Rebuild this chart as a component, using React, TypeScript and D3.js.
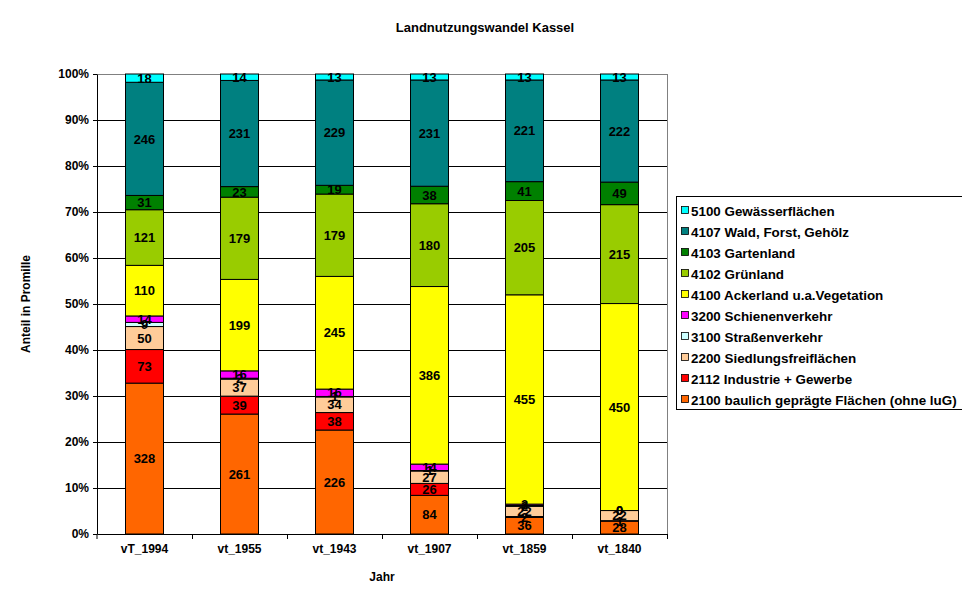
import { useEffect, useRef } from 'react';
import * as d3 from 'd3';

// Columns (years) and land use classes in stack order (bottom to top)
const years = ['vT_1994', 'vt_1955', 'vt_1943', 'vt_1907', 'vt_1859', 'vt_1840'];

const classes = [
  '2100 baulich geprägte Flächen (ohne luG)',
  '2112 Industrie + Gewerbe',
  '2200 Siedlungsfreiflächen',
  '3100 Straßenverkehr',
  '3200 Schienenverkehr',
  '4100 Ackerland u.a.Vegetation',
  '4102 Grünland',
  '4103 Gartenland',
  '4107 Wald, Forst, Gehölz',
  '5100 Gewässerflächen',
];

const colors = [
  '#FF6600', '#FF0000', '#FFCC99', '#CCFFFF', '#FF00FF',
  '#FFFF00', '#99CC00', '#008000', '#008080', '#00FFFF',
];

// values per class, one per year (promille)
const v2100 = [328, 261, 226, 84, 36, 28];
const v2112 = [73, 39, 38, 26, 2, 1];
const v2200 = [50, 37, 34, 27, 22, 22];
const v3100 = [9, 2, 1, 1, 2, 0];
const v3200 = [14, 16, 16, 14, 3, 0];
const v4100 = [110, 199, 245, 386, 455, 450];
const v4102 = [121, 179, 179, 180, 205, 215];
const v4103 = [31, 23, 19, 38, 41, 49];
const v4107 = [246, 231, 229, 231, 221, 222];
const v5100 = [18, 14, 13, 13, 13, 13];

const series = [v2100, v2112, v2200, v3100, v3200, v4100, v4102, v4103, v4107, v5100];

const yTicks = [0, 0.1, 0.2, 0.3, 0.4, 0.5, 0.6, 0.7, 0.8, 0.9, 1];

const Chart = () => {
  const svgRef = useRef<SVGSVGElement>(null);

  useEffect(() => {
    const width = 970;
    const height = 604;
    const left = 97, right = 667, top = 74, bottom = 534;
    const font = '"Liberation Sans", Arial, sans-serif';
    const narrow = '"Liberation Sans Narrow", "Liberation Sans", Arial, sans-serif';

    const svg = d3.select(svgRef.current);
    svg.selectAll('*').remove();
    svg.attr('width', width).attr('height', height);

    const rows = years.map((yr, i) => {
      const r: any = { year: yr };
      classes.forEach((c, k) => { r[c] = series[k][i]; });
      return r;
    });

    const stacked = d3.stack<any>()
      .keys(classes)
      .offset(d3.stackOffsetExpand)(rows);

    const x = d3.scaleBand().domain(years).range([left, right]).padding(0);
    const y = d3.scaleLinear().domain([0, 1]).range([bottom, top]);
    const barW = x.bandwidth() * 0.4;

    // gridlines
    svg.append('g')
      .selectAll('line')
      .data(yTicks.slice(1, -1))
      .enter()
      .append('line')
      .attr('x1', left).attr('x2', right)
      .attr('y1', d => y(d)).attr('y2', d => y(d))
      .attr('stroke', '#000').attr('stroke-width', 1)
      .attr('shape-rendering', 'crispEdges');

    // plot border top/right
    svg.append('path')
      .attr('d', `M${left},${top}H${right}V${bottom}`)
      .attr('fill', 'none').attr('stroke', '#808080')
      .attr('shape-rendering', 'crispEdges');

    // bars
    const layer = svg.append('g')
      .selectAll('g')
      .data(stacked)
      .enter()
      .append('g')
      .attr('fill', (_d, i) => colors[i]);

    layer.selectAll('rect')
      .data(d => d)
      .enter()
      .append('rect')
      .attr('x', d => (x(d.data.year) as number) + (x.bandwidth() - barW) / 2)
      .attr('y', d => y(d[1]))
      .attr('width', barW)
      .attr('height', d => y(d[0]) - y(d[1]))
      .attr('stroke', '#000')
      .attr('stroke-width', 1);

    // data labels
    stacked.forEach((s, k) => {
      svg.append('g')
        .selectAll('text')
        .data(s)
        .enter()
        .append('text')
        .attr('x', d => (x(d.data.year) as number) + x.bandwidth() / 2)
        .attr('y', d => (y(d[0]) + y(d[1])) / 2)
        .attr('dy', '0.36em')
        .attr('text-anchor', 'middle')
        .style('font-family', narrow)
        .style('font-weight', 'bold')
        .style('font-size', '13px')
        .attr('fill', '#000')
        .text(d => String(series[k][years.indexOf(d.data.year)]));
    });

    // y axis
    const yAxis = svg.append('g')
      .attr('transform', `translate(${left},0)`)
      .call(d3.axisLeft(y).tickValues(yTicks).tickFormat(d3.format('.0%')).tickSize(4).tickSizeOuter(0));
    yAxis.select('.domain').attr('stroke', '#000');
    yAxis.selectAll('text')
      .style('font-family', font).style('font-weight', 'bold').style('font-size', '12px')
      .attr('x', -8);

    // x axis
    const xAxis = svg.append('g')
      .attr('transform', `translate(0,${bottom})`)
      .call(d3.axisBottom(x).tickSize(0).tickSizeOuter(0));
    xAxis.select('.domain').attr('stroke', '#000');
    xAxis.selectAll('text')
      .style('font-family', font).style('font-weight', 'bold').style('font-size', '12px')
      .attr('dy', '1.35em');
    // category divider ticks
    svg.append('g')
      .selectAll('line')
      .data(years)
      .enter()
      .append('line')
      .attr('x1', d => (x(d) as number) + x.bandwidth())
      .attr('x2', d => (x(d) as number) + x.bandwidth())
      .attr('y1', bottom).attr('y2', bottom + 5)
      .attr('stroke', '#000')
      .attr('shape-rendering', 'crispEdges');
    svg.append('line')
      .attr('x1', left).attr('x2', left).attr('y1', bottom).attr('y2', bottom + 5)
      .attr('stroke', '#000');

    // titles
    svg.append('text')
      .attr('x', 485).attr('y', 32)
      .attr('text-anchor', 'middle')
      .style('font-family', narrow).style('font-weight', 'bold').style('font-size', '13px')
      .text('Landnutzungswandel Kassel');

    svg.append('text')
      .attr('x', (left + right) / 2).attr('y', 581)
      .attr('text-anchor', 'middle')
      .style('font-family', font).style('font-weight', 'bold').style('font-size', '12px')
      .text('Jahr');

    svg.append('text')
      .attr('transform', `translate(30,${(top + bottom) / 2}) rotate(-90)`)
      .attr('text-anchor', 'middle')
      .style('font-family', font).style('font-weight', 'bold').style('font-size', '12px')
      .text('Anteil in Promille');

    // legend
    const lg = svg.append('g');
    lg.append('rect')
      .attr('x', 676.5).attr('y', 196.5).attr('width', 286).attr('height', 213)
      .attr('fill', '#fff').attr('stroke', '#000');
    const legendItems = classes.map((c, i) => ({ c, color: colors[i] })).reverse();
    const li = lg.selectAll('g.item')
      .data(legendItems)
      .enter()
      .append('g')
      .attr('transform', (_d, i) => `translate(681,${211 + i * 21})`);
    li.append('rect')
      .attr('x', 0.5).attr('y', -4.5).attr('width', 7).attr('height', 7)
      .attr('fill', d => d.color).attr('stroke', '#000').attr('stroke-width', 0.8);
    li.append('text')
      .attr('x', 10).attr('y', 0).attr('dy', '0.36em')
      .style('font-family', font).style('font-weight', 'bold').style('font-size', '13.4px')
      .text(d => d.c);
  }, []);

  return <svg ref={svgRef}></svg>;
};

export default function App() {
  return (
    <div style={{ margin: -8 }}>
      <Chart />
    </div>
  );
}
